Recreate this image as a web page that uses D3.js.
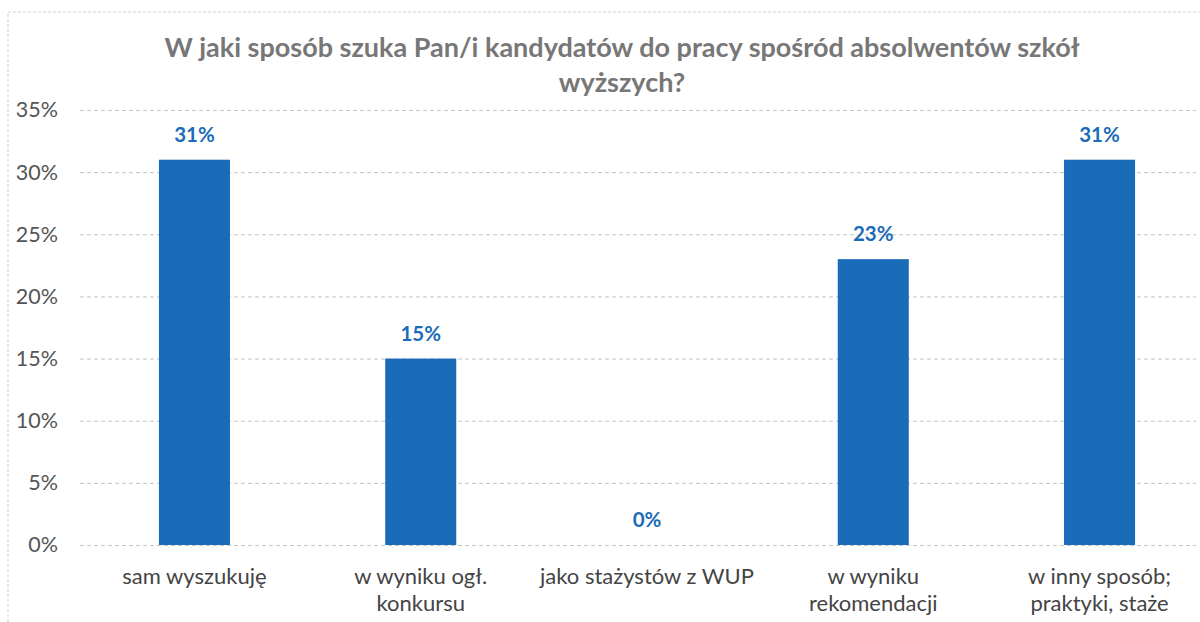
<!DOCTYPE html>
<html>
<head>
<meta charset="utf-8">
<script src="https://cdn.jsdelivr.net/npm/d3@7"></script>
<style>
  body { margin: 0; background: #fff; }
  svg { display: block; }
</style>
</head>
<body>
<div id="chart"></div>
<script>
const categories = [
  ['sam wyszukuję'],
  ['w wyniku ogł.', 'konkursu'],
  ['jako stażystów z WUP'],
  ['w wyniku', 'rekomendacji'],
  ['w inny sposób;', 'praktyki, staże']
];
const values = [0.31, 0.15, 0, 0.23, 0.31];
const yTicks = [0, 0.05, 0.10, 0.15, 0.20, 0.25, 0.30, 0.35];
const titleLines = ['W jaki sposób szuka Pan/i kandydatów do pracy spośród absolwentów szkół', 'wyższych?'];

const width = 1200, height = 622;
const font = 'Lato, "Open Sans", sans-serif';
const barColor = '#1b6cb8';

const svg = d3.select('#chart').append('svg')
  .attr('width', width).attr('height', height);

// scanned frame edges
svg.append('path')
  .attr('d', `M8,${height} V12 H${width}`)
  .attr('fill', 'none')
  .attr('stroke', '#cfcfcf')
  .attr('stroke-width', 1)
  .attr('stroke-dasharray', '3,2');

const keys = categories.map(c => c.join(' '));
const x = d3.scaleBand().domain(keys).range([82, 1212]).paddingInner(0.686).paddingOuter(0.34);
const y = d3.scaleLinear().domain([0, 0.35]).range([545, 110]);

// gridlines + y labels
const yAxis = svg.append('g')
  .attr('transform', 'translate(80,0)')
  .call(d3.axisLeft(y).tickValues(yTicks).tickFormat(d3.format('.0%')).tickSize(-(1196 - 80)).tickPadding(22));
yAxis.select('.domain').remove();
yAxis.selectAll('.tick line')
  .attr('stroke', '#c4c4c4')
  .attr('stroke-dasharray', '4,3');
yAxis.selectAll('.tick text')
  .attr('fill', '#555')
  .style('font-family', font)
  .style('font-size', '21.5px');

// bars
svg.selectAll('rect.bar')
  .data(values)
  .enter()
  .append('rect')
  .attr('class', 'bar')
  .attr('x', (d, i) => x(keys[i]))
  .attr('y', d => y(d))
  .attr('width', x.bandwidth())
  .attr('height', d => y(0) - y(d))
  .attr('fill', barColor);

// value labels
svg.selectAll('text.val')
  .data(values)
  .enter()
  .append('text')
  .attr('class', 'val')
  .attr('x', (d, i) => x(keys[i]) + x.bandwidth() / 2)
  .attr('y', d => y(d) - 18)
  .attr('text-anchor', 'middle')
  .attr('fill', '#1b6cb8')
  .style('font-family', font)
  .style('font-weight', 'bold')
  .style('font-size', '20.5px')
  .text(d => d3.format('.0%')(d));

// category labels
const cat = svg.selectAll('text.cat')
  .data(categories)
  .enter()
  .append('text')
  .attr('class', 'cat')
  .attr('x', (d, i) => x(keys[i]) + x.bandwidth() / 2)
  .attr('y', 584)
  .attr('text-anchor', 'middle')
  .attr('fill', '#444')
  .style('font-family', font)
  .style('font-size', '22px');
cat.selectAll('tspan')
  .data(d => d)
  .enter()
  .append('tspan')
  .attr('x', function () { return this.parentNode.getAttribute('x'); })
  .attr('dy', (d, i) => (i === 0 ? 0 : 27))
  .text(d => d);

// title
svg.append('text')
  .attr('x', 622)
  .attr('y', 57)
  .attr('text-anchor', 'middle')
  .attr('fill', '#777')
  .style('font-family', font)
  .style('font-weight', 'bold')
  .style('font-size', '27px')
  .selectAll('tspan')
  .data(titleLines)
  .enter()
  .append('tspan')
  .attr('x', 622)
  .attr('dy', (d, i) => (i === 0 ? 0 : 35))
  .text(d => d);
</script>
</body>
</html>
